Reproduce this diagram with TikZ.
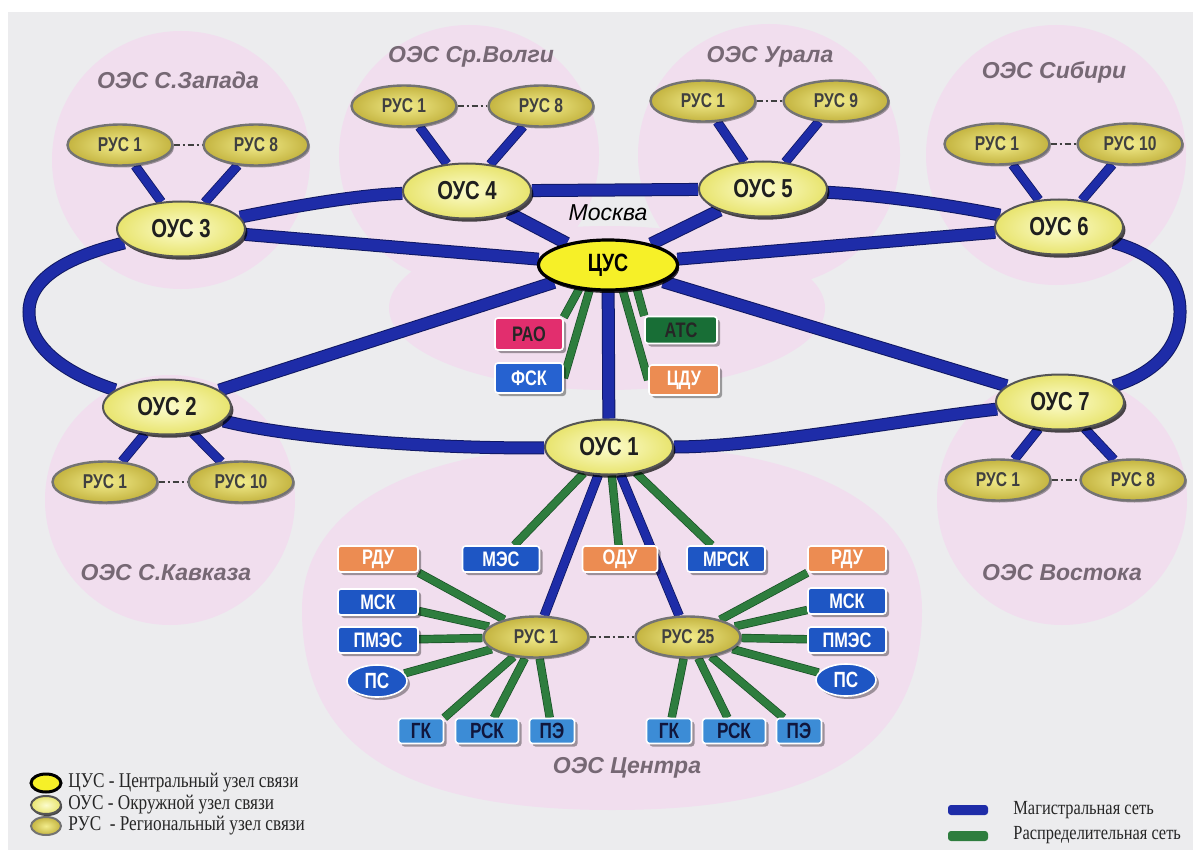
\documentclass[tikz,border=0pt]{standalone}
\usepackage{fontspec}
\setmainfont{Liberation Sans}
\newfontfamily\nf[FakeStretch=0.78]{Liberation Sans}
\newfontfamily\lf[FakeStretch=0.82]{Liberation Serif}
\usetikzlibrary{shapes.geometric,shadows}
\pgfdeclarelayer{pinkl}
\pgfdeclarelayer{edges}
\pgfsetlayers{pinkl,edges,main}
\definecolor{bgc}{RGB}{236,236,238}
\definecolor{pinkc}{RGB}{241,222,238}
\definecolor{magc}{RGB}{30,44,168}
\definecolor{magd}{RGB}{16,24,100}
\definecolor{disc}{RGB}{46,125,62}
\definecolor{disd}{RGB}{25,80,38}
\definecolor{titc}{RGB}{118,104,116}
\definecolor{cusc}{RGB}{246,240,40}
\definecolor{ousin}{RGB}{252,252,205}
\definecolor{ousout}{RGB}{232,228,110}
\definecolor{rusin}{RGB}{242,236,140}
\definecolor{rusout}{RGB}{196,180,64}
\definecolor{raoc}{RGB}{226,46,110}
\definecolor{fskc}{RGB}{38,98,208}
\definecolor{atsc}{RGB}{24,110,54}
\definecolor{orc}{RGB}{236,140,82}
\definecolor{bluc}{RGB}{30,86,196}
\definecolor{lbc}{RGB}{60,140,214}
\definecolor{navy}{RGB}{16,22,60}
\definecolor{grb}{RGB}{85,85,85}
\begin{document}
\begin{tikzpicture}[x=0.5pt,y=-0.5pt,
  cus/.style={ellipse, minimum width=69.5pt, minimum height=25pt, inner sep=0pt,
    draw=black, line width=1.6pt, fill=cusc,
    font=\nf\bfseries\fontsize{12.5}{13}\selectfont, text=black,
    drop shadow={shadow xshift=0.8pt, shadow yshift=-1.5pt, fill=black, opacity=0.8}},
  ous/.style={ellipse, minimum width=64pt, minimum height=27.5pt, inner sep=0pt,
    draw=grb, line width=1pt, inner color=ousin, outer color=ousout,
    font=\nf\bfseries\fontsize{13}{14}\selectfont, text=black!88,
    drop shadow={shadow xshift=1.2pt, shadow yshift=-1.6pt, fill=black, opacity=0.7}},
  rus/.style={ellipse, minimum width=52.5pt, minimum height=20.5pt, inner sep=0pt,
    draw=black!55, line width=1.2pt, inner color=rusin, outer color=rusout,
    font=\nf\bfseries\fontsize{10}{11}\selectfont, text=black!75,
    drop shadow={shadow xshift=0.8pt, shadow yshift=-1pt, fill=black, opacity=0.35}},
  box/.style={rectangle, rounded corners=1.5pt, draw=white, line width=0.8pt, inner sep=0pt,
    minimum height=13pt, font=\nf\bfseries\fontsize{10.5}{11}\selectfont,
    drop shadow={shadow xshift=1.5pt, shadow yshift=-1.5pt, fill=black, opacity=0.35}},
  lbox/.style={box, fill=lbc, text=navy, minimum height=12.5pt, font=\nf\bfseries\fontsize{11}{12}\selectfont},
  psn/.style={ellipse, draw=white, line width=0.8pt, inner sep=0pt, fill=bluc, text=white,
    minimum width=30pt, minimum height=16pt, font=\nf\bfseries\fontsize{11}{12}\selectfont,
    drop shadow={shadow xshift=1.5pt, shadow yshift=-1.5pt, fill=black, opacity=0.35}},
  tit/.style={font=\bfseries\itshape\fontsize{11.5}{12}\selectfont, text=titc, inner sep=0pt},
  mag/.style={line width=5.5pt, draw=magc, preaction={draw=magd, line width=6.5pt}},
  mags/.style={line width=4pt, draw=magc, preaction={draw=magd, line width=4.8pt}},
  dis/.style={line width=3.5pt, draw=disc, preaction={draw=disd, line width=4.2pt}},
  dd/.style={draw=black!75, line width=0.6pt, dash pattern=on 3pt off 1.5pt on 1pt off 1.5pt},
  legt/.style={anchor=west, inner sep=0pt, font=\lf\fontsize{10.5}{12}\selectfont, text=black!85}
]
\useasboundingbox (0,0) rectangle (1193,850);
\begin{pgfonlayer}{pinkl}
\fill[white] (0,0) rectangle (1193,850);
\fill[bgc] (8,12) rectangle (1193,850);
\fill[pinkc] (181,160) circle[radius=129];
\fill[pinkc] (469,155) circle[radius=130];
\fill[pinkc] (769,155) circle[radius=131];
\fill[pinkc] (1056,155) circle[radius=130];
\fill[pinkc] (170,500) circle[radius=125];
\fill[pinkc] (1062,500) circle[radius=125];
\fill[pinkc] (607,308) ellipse[x radius=218, y radius=82];
\fill[pinkc] (612,445) .. controls (806,445) and (922,505) .. (922,610)
  .. controls (922,746) and (825,810) .. (612,810)
  .. controls (399,810) and (302,746) .. (302,610)
  .. controls (302,505) and (418,445) .. cycle;
\end{pgfonlayer}

% central and district nodes
\node[cus] (cus) at (608,265) {ЦУС};
\node[ous] (o1) at (609,447) {ОУС 1};
\node[ous] (o2) at (167,407) {ОУС 2};
\node[ous] (o3) at (181,229) {ОУС 3};
\node[ous] (o4) at (467,191) {ОУС 4};
\node[ous] (o5) at (763,189) {ОУС 5};
\node[ous] (o6) at (1059,227) {ОУС 6};
\node[ous] (o7) at (1060,402) {ОУС 7};
\node[font=\itshape\fontsize{11.5}{12}\selectfont, inner sep=0pt] (msk) at (608,213) {Москва};

% regional nodes
\node[rus] (r3a) at (120,145) {РУС 1};
\node[rus] (r3b) at (256,145) {РУС 8};
\node[rus] (r4a) at (404,106) {РУС 1};
\node[rus] (r4b) at (541,106) {РУС 8};
\node[rus] (r5a) at (703,101) {РУС 1};
\node[rus] (r5b) at (836,101) {РУС 9};
\node[rus] (r6a) at (997,144) {РУС 1};
\node[rus] (r6b) at (1130,144) {РУС 10};
\node[rus] (r2a) at (105,482) {РУС 1};
\node[rus] (r2b) at (241,482) {РУС 10};
\node[rus] (r7a) at (998,480) {РУС 1};
\node[rus] (r7b) at (1133,480) {РУС 8};
\node[rus] (c1) at (536,637) {РУС 1};
\node[rus] (c25) at (688,637) {РУС 25};

% titles
\node[tit] (t3) at (178,80) {ОЭС С.Запада};
\node[tit] (t4) at (471,57) {ОЭС Ср.Волги};
\node[tit] (t5) at (770,57) {ОЭС Урала};
\node[tit] (t6) at (1054,72) {ОЭС Сибири};
\node[tit] (t2) at (166,573) {ОЭС С.Кавказа};
\node[tit] (t7) at (1062,573) {ОЭС Востока};
\node[tit] (t1) at (627,768) {ОЭС Центра};

% boxes near CUS
\node[box, fill=raoc, text=black!85, minimum width=34pt, minimum height=16pt] (rao) at (529,334) {РАО};
\node[box, fill=fskc, text=white, minimum width=34pt, minimum height=15pt] (fsk) at (529,378) {ФСК};
\node[box, fill=atsc, text=black!85, minimum width=36pt, minimum height=13.5pt] (ats) at (681,330) {АТС};
\node[box, fill=orc, text=white, minimum width=35pt, minimum height=15pt] (cdu) at (684,380) {ЦДУ};

% boxes below OUS 1
\node[box, fill=bluc, text=white, minimum width=38.5pt] (mes) at (501,559) {МЭС};
\node[box, fill=orc, text=white, minimum width=37.5pt] (odu) at (620,559) {ОДУ};
\node[box, fill=bluc, text=white, minimum width=39pt] (mrsk) at (726,559) {МРСК};

% left group
\node[box, fill=orc, text=white, minimum width=40pt] (rdu1) at (378,559) {РДУ};
\node[box, fill=bluc, text=white, minimum width=40pt] (msk1) at (378,602) {МСК};
\node[box, fill=bluc, text=white, minimum width=40pt] (pmes1) at (378,640) {ПМЭС};
\node[psn] (ps1) at (377,681) {ПС};
\node[lbox, minimum width=22.5pt] (gk1) at (421,731) {ГК};
\node[lbox, minimum width=31.5pt] (rsk1) at (487,731) {РСК};
\node[lbox, minimum width=22.5pt] (pe1) at (552,731) {ПЭ};

% right group
\node[box, fill=orc, text=white, minimum width=39pt] (rdu2) at (847,559) {РДУ};
\node[box, fill=bluc, text=white, minimum width=39pt] (msk2) at (847,601) {МСК};
\node[box, fill=bluc, text=white, minimum width=39pt] (pmes2) at (847,640) {ПМЭС};
\node[psn] (ps2) at (846,680) {ПС};
\node[lbox, minimum width=22.5pt] (gk2) at (669,731) {ГК};
\node[lbox, minimum width=31.5pt] (rsk2) at (734,731) {РСК};
\node[lbox, minimum width=22.5pt] (pe2) at (799,731) {ПЭ};

% legend
\node[ellipse, minimum width=15pt, minimum height=9pt, inner sep=0pt, draw=black, line width=1.5pt, fill=cusc] (lg1) at (46,783) {};
\node[ellipse, minimum width=15pt, minimum height=9pt, inner sep=0pt, draw=grb, line width=1pt, inner color=ousin, outer color=ousout,
  drop shadow={shadow xshift=0.6pt, shadow yshift=-1pt, fill=black, opacity=0.7}] (lg2) at (46,805) {};
\node[ellipse, minimum width=15pt, minimum height=9pt, inner sep=0pt, draw=black!55, line width=1pt, inner color=rusin, outer color=rusout] (lg3) at (46,826) {};
\node[legt] (lt1) at (68,783) {ЦУС - Центральный узел связи};
\node[legt] (lt2) at (68,805) {ОУС - Окружной узел связи};
\node[legt] (lt3) at (68,826) {РУС\ \ - Региональный узел связи};
\node[rectangle, rounded corners=1.5pt, fill=magc, minimum width=20pt, minimum height=5pt, inner sep=0pt] (lb1) at (968,810) {};
\node[rectangle, rounded corners=1.5pt, fill=disc, minimum width=20pt, minimum height=5pt, inner sep=0pt] (lb2) at (968,836) {};
\node[legt, font=\lf\fontsize{10}{12}\selectfont] (lt4) at (1013,810) {Магистральная сеть};
\node[legt, font=\lf\fontsize{10}{12}\selectfont] (lt5) at (1013,835) {Распределительная сеть};

\coordinate (rr) at (1180,313);
\coordinate (ll) at (29,312);

\begin{pgfonlayer}{edges}
% backbone ring
\draw[mag] (o3) .. controls (300,205) and (360,195) .. (o4);
\draw[mag] (o4) -- (o5);
\draw[mag] (o5) .. controls (880,195) and (950,205) .. (o6);
\draw[mag] (o6) .. controls (1140,250) and (1181,268) .. (rr) .. controls (1179,358) and (1140,378) .. (o7);
\draw[mag] (o7) .. controls (900,420) and (760,447) .. (o1);
\draw[mag] (o1) .. controls (450,449) and (300,440) .. (o2);
\draw[mag] (o2) .. controls (70,375) and (29,350) .. (ll) .. controls (29,275) and (75,255) .. (o3);
% spokes from CUS
\draw[mag] (cus) -- (o3);
\draw[mag] (cus) -- (o4);
\draw[mag] (cus) -- (o5);
\draw[mag] (cus) -- (o6);
\draw[mag] (cus) -- (o2);
\draw[mag] (cus) -- (o7);
\draw[mag] (cus) -- (o1);
% OUS to RUS
\draw[mags] (o3) -- (r3a); \draw[mags] (o3) -- (r3b);
\draw[mags] (o4) -- (r4a); \draw[mags] (o4) -- (r4b);
\draw[mags] (o5) -- (r5a); \draw[mags] (o5) -- (r5b);
\draw[mags] (o6) -- (r6a); \draw[mags] (o6) -- (r6b);
\draw[mags] (o2) -- (r2a); \draw[mags] (o2) -- (r2b);
\draw[mags] (o7) -- (r7a); \draw[mags] (o7) -- (r7b);
\draw[mags] (o1) -- (c1); \draw[mags] (o1) -- (c25);
% dash-dot between RUS
\draw[dd] (r3a) -- (r3b);
\draw[dd] (r4a) -- (r4b);
\draw[dd] (r5a) -- (r5b);
\draw[dd] (r6a) -- (r6b);
\draw[dd] (r2a) -- (r2b);
\draw[dd] (r7a) -- (r7b);
\draw[dd] (c1) -- (c25);
% distribution from CUS
\draw[dis] (cus.220) -- (rao.north east);
\draw[dis] (cus.234) -- (fsk.east);
\draw[dis] (cus.300) -- (cdu.west);
\draw[dis] (cus.320) -- (ats.north west);
% distribution from OUS 1
\draw[dis] (o1) -- (mes);
\draw[dis] (o1) -- (odu);
\draw[dis] (o1) -- (mrsk);
% distribution from RUS 1
\draw[dis] (c1) -- (rdu1.south east);
\draw[dis] (c1) -- (msk1);
\draw[dis] (c1) -- (pmes1);
\draw[dis] (c1) -- (ps1);
\draw[dis] (c1) -- (gk1.north east);
\draw[dis] (c1) -- (rsk1);
\draw[dis] (c1) -- (pe1);
% distribution from RUS 25
\draw[dis] (c25) -- (rdu2.south west);
\draw[dis] (c25) -- (msk2);
\draw[dis] (c25) -- (pmes2);
\draw[dis] (c25) -- (ps2);
\draw[dis] (c25) -- (gk2);
\draw[dis] (c25) -- (rsk2);
\draw[dis] (c25) -- (pe2);
\end{pgfonlayer}
\end{tikzpicture}
\end{document}
